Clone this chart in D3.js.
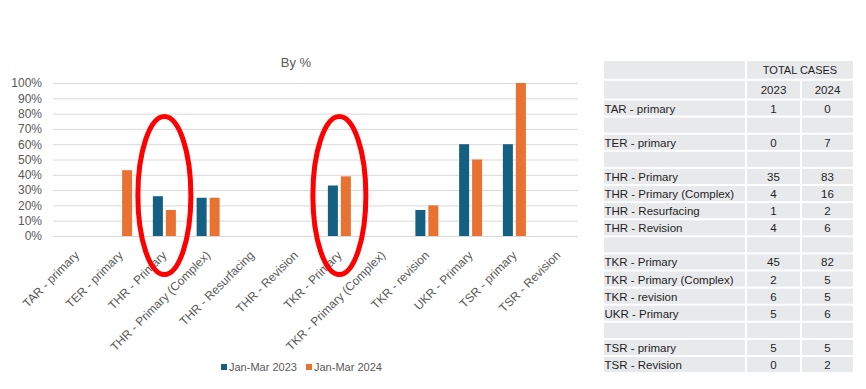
<!DOCTYPE html>
<html>
<head>
<meta charset="utf-8">
<script src="https://cdn.jsdelivr.net/npm/d3@7"></script>
<style>
  body { margin: 0; background: #fff; }
  svg { display: block; font-family: "Liberation Sans", Arial, sans-serif; }
</style>
</head>
<body>
<div class="container"></div>
<script>
// Chart data (% share)
const categories = ["TAR - primary", "TER - primary", "THR - Primary", "THR - Primary (Complex)",
  "THR - Resurfacing", "THR - Revision", "TKR - Primary", "TKR - Primary (Complex)",
  "TKR - revision", "UKR - Primary", "TSR - primary", "TSR - Revision"]
const seriesNames = ["Jan-Mar 2023", "Jan-Mar 2024"]
const pct2023 = [0, 0, 26, 25, 0, 0, 33, 0, 17, 60, 60, 0]
const pct2024 = [0, 43, 17, 25, 0, 0, 39, 0, 20, 50, 100, 0]
const yTicks = [0, 10, 20, 30, 40, 50, 60, 70, 80, 90, 100]
const highlighted = ["THR - Primary", "TKR - Primary"]

// Table data (total cases); null = blank spacer row
const tableLabels = ["TAR - primary", null, "TER - primary", null, "THR - Primary",
  "THR - Primary (Complex)", "THR - Resurfacing", "THR - Revision", null, "TKR - Primary",
  "TKR - Primary (Complex)", "TKR - revision", "UKR - Primary", null, "TSR - primary", "TSR - Revision"]
const cases2023 = [1, null, 0, null, 35, 4, 1, 4, null, 45, 2, 6, 5, null, 5, 0]
const cases2024 = [0, null, 7, null, 83, 16, 2, 6, null, 82, 5, 5, 6, null, 5, 2]
const tableYears = ["2023", "2024"]

const colors = ["#156082", "#e97132"]
const textColor = "#595959"

const svg = d3.select(".container")
    .append("svg")
    .attr("width", 866)
    .attr("height", 389)

// Scales
const xScale = d3.scaleBand()
    .domain(categories)
    .range([55, 580])

const yScale = d3.scaleLinear()
    .domain([0, 100])
    .range([236, 83])

const xSub = d3.scaleBand()
    .domain(seriesNames)
    .range([xScale.bandwidth() / 2 - 11.5, xScale.bandwidth() / 2 + 11.5])
    .paddingInner(0.23)

// Title
svg.append("text")
    .text("By %")
    .attr("x", 296)
    .attr("y", 67)
    .attr("text-anchor", "middle")
    .attr("font-size", 13)
    .attr("fill", textColor)

// Y axis + grid
const yAxis = d3.axisLeft(yScale)
    .tickValues(yTicks)
    .tickFormat(d => d + "%")
    .tickSize(0)
    .tickPadding(11)

const y = svg.append("g")
    .attr("transform", `translate(53, 0)`)
    .call(yAxis)
y.select(".domain").remove()
y.selectAll(".tick text")
    .attr("font-size", 12)
    .attr("fill", textColor)
    .attr("font-family", "Liberation Sans, Arial, sans-serif")
y.selectAll(".tick line")
    .attr("x2", 525)
    .attr("stroke", "#d9d9d9")

// X axis labels
const xAxis = d3.axisBottom(xScale).tickSize(0)
const x = svg.append("g")
    .attr("transform", `translate(0, 236)`)
    .call(xAxis)
x.select(".domain").remove()
x.selectAll(".tick text")
    .attr("font-size", 12)
    .attr("fill", textColor)
    .attr("font-family", "Liberation Sans, Arial, sans-serif")
    .attr("text-anchor", "end")
    .attr("dy", null)
    .attr("y", 0)
    .attr("transform", "translate(3, 20) rotate(-45)")

// Bars
const rows = categories.map((c, i) => ({category: c, values: [pct2023[i], pct2024[i]]}))

svg.append("g")
    .selectAll("g")
    .data(rows)
    .join("g")
    .attr("transform", d => `translate(${xScale(d.category)}, 0)`)
    .selectAll("rect")
    .data(d => d.values.map((v, j) => ({name: seriesNames[j], value: v, color: colors[j]})))
    .join("rect")
    .attr("x", d => xSub(d.name))
    .attr("width", xSub.bandwidth())
    .attr("y", d => yScale(d.value))
    .attr("height", d => yScale(0) - yScale(d.value))
    .attr("fill", d => d.color)

// Red annotation ellipses
svg.append("g")
    .selectAll("ellipse")
    .data(highlighted)
    .join("ellipse")
    .attr("cx", d => xScale(d) + xScale.bandwidth() / 2)
    .attr("cy", 195.5)
    .attr("rx", 26.5)
    .attr("ry", 79)
    .attr("fill", "none")
    .attr("stroke", "#ff0000")
    .attr("stroke-width", 5)

// Legend
const legend = svg.append("g")
    .selectAll("g")
    .data(seriesNames)
    .join("g")
    .attr("transform", (d, i) => `translate(${221 + i * 85}, 367)`)
legend.append("rect")
    .attr("x", 0)
    .attr("y", -3)
    .attr("width", 6)
    .attr("height", 6)
    .attr("fill", (d, i) => colors[i])
legend.append("text")
    .text(d => d)
    .attr("x", 8)
    .attr("dy", "0.35em")
    .attr("font-size", 11)
    .attr("fill", textColor)

// Table
const table = svg.append("g")
const colX = [603, 746, 801, 854]
const headerH = 19.75
const rowH = 17.1
const tableTop = 60
const fill = "#e8e9eb"
const cellColor = "#1f1f1f"

function cell(x0, x1, y0, y1) {
    table.append("rect")
        .attr("x", x0 + 1)
        .attr("y", y0 + 1)
        .attr("width", x1 - x0 - 2)
        .attr("height", y1 - y0 - 2)
        .attr("fill", fill)
}

// header row 1
cell(colX[0], colX[1], tableTop, tableTop + headerH)
cell(colX[1], colX[3], tableTop, tableTop + headerH)
table.append("text")
    .text("TOTAL CASES")
    .attr("x", (colX[1] + colX[3]) / 2)
    .attr("y", tableTop + headerH / 2)
    .attr("dy", "0.35em")
    .attr("text-anchor", "middle")
    .attr("font-size", 11)
    .attr("fill", cellColor)

// header row 2
const h2 = tableTop + headerH
cell(colX[0], colX[1], h2, h2 + headerH)
tableYears.forEach((yr, j) => {
    cell(colX[j + 1], colX[j + 2], h2, h2 + headerH)
    table.append("text")
        .text(yr)
        .attr("x", (colX[j + 1] + colX[j + 2]) / 2)
        .attr("y", h2 + headerH / 2)
        .attr("dy", "0.35em")
        .attr("text-anchor", "middle")
        .attr("font-size", 11.5)
        .attr("fill", cellColor)
})

// body
const bodyTop = tableTop + 2 * headerH
tableLabels.forEach((label, i) => {
    const y0 = bodyTop + i * rowH
    const vals = [cases2023[i], cases2024[i]]
    cell(colX[0], colX[1], y0, y0 + rowH)
    cell(colX[1], colX[2], y0, y0 + rowH)
    cell(colX[2], colX[3], y0, y0 + rowH)
    if (label !== null) {
        table.append("text")
            .text(label)
            .attr("x", colX[0] + 1.5)
            .attr("y", y0 + rowH / 2 + 0.5)
            .attr("dy", "0.35em")
            .attr("font-size", 11.5)
            .attr("fill", cellColor)
        vals.forEach((v, j) => {
            table.append("text")
                .text(v)
                .attr("x", (colX[j + 1] + colX[j + 2]) / 2)
                .attr("y", y0 + rowH / 2 + 0.5)
                .attr("dy", "0.35em")
                .attr("text-anchor", "middle")
                .attr("font-size", 11.5)
                .attr("fill", cellColor)
        })
    }
})
</script>
</body>
</html>
